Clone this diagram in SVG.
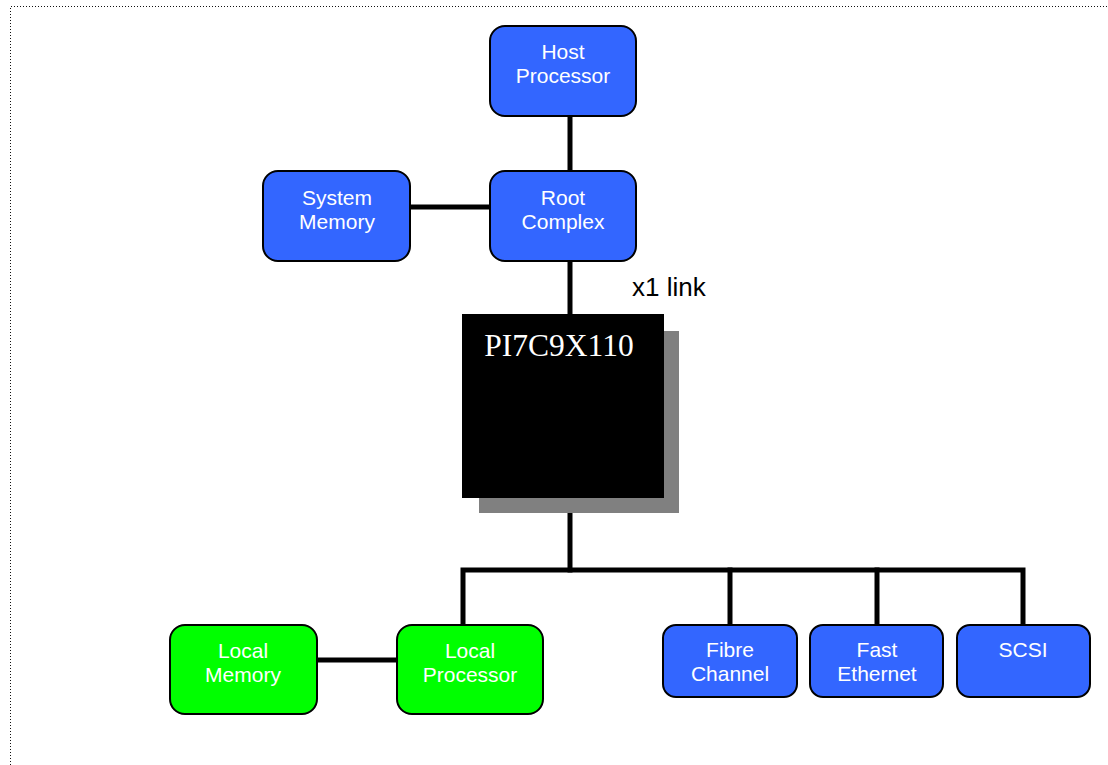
<svg xmlns="http://www.w3.org/2000/svg" width="1108" height="765" viewBox="0 0 1108 765">
<style>
.blue{fill:#3366FF;stroke:#000;stroke-width:2}
.green{fill:#00FF00;stroke:#000;stroke-width:2}
.lbl{font-family:"Liberation Sans",Arial,sans-serif;font-size:21px;fill:#fff;text-anchor:middle}
.wire{stroke:#000;stroke-width:5;fill:none;stroke-linecap:square}
</style>
<rect width="1108" height="765" fill="#fff"/>
<path d="M10.5 765 V6.5 H1108" fill="none" stroke="#111" stroke-width="1" stroke-dasharray="1 2"/>
<g id="connectors">
<line class="wire" x1="570" y1="117" x2="570" y2="170"/>
<line class="wire" x1="410" y1="207" x2="489" y2="207"/>
<line class="wire" x1="570" y1="262" x2="570" y2="314"/>
<line class="wire" x1="570" y1="498" x2="570" y2="570"/>
<polyline class="wire" points="463,624 463,570 1023,570 1023,624"/>
<line class="wire" x1="730" y1="570" x2="730" y2="624"/>
<line class="wire" x1="877" y1="570" x2="877" y2="624"/>
<line class="wire" x1="317" y1="660" x2="396" y2="660"/>
</g>
<g id="host">
<rect class="blue" x="490" y="26" width="146" height="90" rx="15"/>
<text class="lbl" x="563" y="59">Host</text>
<text class="lbl" x="563" y="83">Processor</text>
</g>
<g id="sysmem">
<rect class="blue" x="263" y="171" width="147" height="90" rx="15"/>
<text class="lbl" x="337" y="205">System</text>
<text class="lbl" x="337" y="229">Memory</text>
</g>
<g id="root">
<rect class="blue" x="490" y="171" width="146" height="90" rx="15"/>
<text class="lbl" x="563" y="205">Root</text>
<text class="lbl" x="563" y="229">Complex</text>
</g>
<g id="link-label">
<text x="632" y="296" font-family="'Liberation Sans',Arial,sans-serif" font-size="26px" fill="#000">x1 link</text>
</g>
<g id="chip">
<rect x="479" y="331" width="200" height="182" fill="#808080"/>
<rect x="462" y="314" width="202" height="184" fill="#000"/>
<text x="559" y="356" font-family="'Liberation Serif','Times New Roman',serif" font-size="31.5px" fill="#fff" text-anchor="middle">PI7C9X110</text>
</g>
<g id="localmem">
<rect class="green" x="170" y="625" width="147" height="89" rx="15"/>
<text class="lbl" x="243" y="658">Local</text>
<text class="lbl" x="243" y="682">Memory</text>
</g>
<g id="localproc">
<rect class="green" x="397" y="625" width="146" height="89" rx="15"/>
<text class="lbl" x="470" y="658">Local</text>
<text class="lbl" x="470" y="682">Processor</text>
</g>
<g id="fibre">
<rect class="blue" x="663" y="625" width="134" height="72" rx="13"/>
<text class="lbl" x="730" y="657">Fibre</text>
<text class="lbl" x="730" y="681">Channel</text>
</g>
<g id="ethernet">
<rect class="blue" x="810" y="625" width="133" height="72" rx="13"/>
<text class="lbl" x="877" y="657">Fast</text>
<text class="lbl" x="877" y="681">Ethernet</text>
</g>
<g id="scsi">
<rect class="blue" x="957" y="625" width="133" height="72" rx="13"/>
<text class="lbl" x="1023" y="657">SCSI</text>
</g>
</svg>
